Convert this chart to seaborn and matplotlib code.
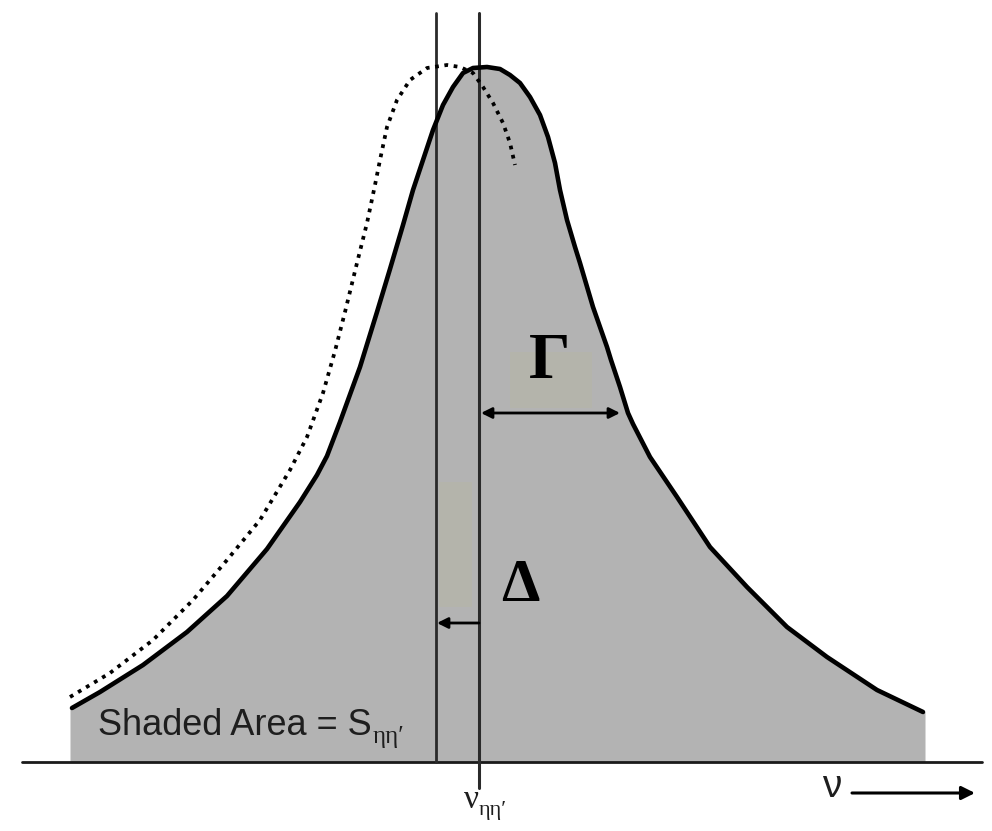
import matplotlib
matplotlib.use("Agg")
import matplotlib.pyplot as plt
import seaborn as sns
import pandas as pd
from matplotlib.patches import Rectangle

# Shifted line-shape profile: frequency position vs intensity above baseline
solid_nu = [72, 100, 143, 187, 227, 267, 300, 317, 327, 340, 360, 377, 390, 403,
            413, 423, 433, 443, 453, 463, 473, 487, 500, 510, 520, 530, 540, 548,
            555, 560, 567, 575, 580, 593, 607, 611, 620, 628, 633, 650, 677, 710,
            747, 787, 827, 877, 923]
solid_int = [54, 70, 97, 130, 166, 213, 260, 287, 306, 340, 395, 450, 493, 537,
             572, 602, 632, 657, 675, 689, 694, 695, 693, 687, 679, 665, 647, 625,
             599, 572, 542, 515, 499, 455, 415, 402, 375, 349, 338, 305, 265, 215,
             175, 135, 105, 72, 50]

# Unshifted (dotted) profile
dotted_nu = [70, 110, 153, 193, 227, 260, 290, 307, 315, 323, 335, 345, 357, 367,
             375, 380, 387, 397, 410, 427, 447, 460, 473, 483, 493, 503, 510, 515]
dotted_int = [65, 89, 122, 162, 202, 242, 292, 325, 347, 369, 411, 450, 499, 539,
              577, 602, 635, 662, 682, 694, 697, 695, 689, 675, 659, 639, 619, 597]

# Line centres and annotation levels
nu_shifted = 436
nu_center = 479
gamma_right = 620
gamma_level = 349
delta_level = 139
shade_left, shade_right = 70, 925

sns.set_theme(style="white")
plt.rcParams['font.family'] = ['Liberation Sans', 'DejaVu Sans']

fig = plt.figure(figsize=(9.92, 8.31), dpi=100)
ax = fig.add_axes([0, 0, 1, 1])
ax.set_xlim(0, 992)
ax.set_ylim(-69, 762)
ax.axis("off")

solid = pd.DataFrame({"nu": solid_nu, "I": solid_int})
dotted = pd.DataFrame({"nu": dotted_nu, "I": dotted_int})

# shaded area under the profile
fill_nu = [shade_left] + solid_nu + [shade_right]
fill_int = [solid_int[0]] + solid_int + [solid_int[-1]]
ax.fill_between(fill_nu, 0, fill_int, color="#b3b3b3", lw=0, zorder=1)

# light boxes behind the symbols
ax.add_patch(Rectangle((510, 354), 82, 56, color="#b4b4ab", lw=0, zorder=2))
ax.add_patch(Rectangle((439, 155), 33, 125, color="#b4b4ab", lw=0, zorder=2))

sns.lineplot(data=solid, x="nu", y="I", ax=ax, color="black", lw=3.3,
             sort=False, zorder=5, solid_joinstyle="round", solid_capstyle="round")
sns.lineplot(data=dotted, x="nu", y="I", ax=ax, color="black", lw=2.7,
             sort=False, zorder=4, linestyle=(0, (1.0, 1.5)))

# baseline
ax.plot([22, 982], [0, 0], color="#1a1a1a", lw=2, zorder=3)

# vertical lines at the line centres
ax.plot([nu_shifted, nu_shifted], [0, 749], color="#2a2a2a", lw=2, zorder=3)
ax.plot([nu_center, nu_center], [-26, 749], color="#2a2a2a", lw=2.2, zorder=3)

# Γ (width) double arrow
ax.annotate("", xy=(gamma_right, gamma_level), xytext=(nu_center + 2, gamma_level),
            arrowprops=dict(arrowstyle="<|-|>", color="black", lw=2,
                            mutation_scale=16, shrinkA=0, shrinkB=0), zorder=6)
# Δ (shift) arrow
ax.annotate("", xy=(nu_shifted + 1, delta_level), xytext=(nu_center, delta_level),
            arrowprops=dict(arrowstyle="-|>", color="black", lw=2,
                            mutation_scale=16, shrinkA=0, shrinkB=0), zorder=6)

ax.text(550, 400, "Γ", fontsize=47, fontweight="bold", family="Liberation Serif",
        color="black", ha="center", va="center", zorder=7)
ax.text(520, 176, "Δ", fontsize=44, fontweight="bold", family="Liberation Serif",
        color="black", ha="center", va="center", zorder=7)


def with_subscript(x, y, main, sub, sub_drop, main_kw, sub_kw, gap=1.0):
    """Draw a label and put a lowered subscript right after it."""
    t = ax.text(x, y, main, va="baseline", zorder=7, **main_kw)
    fig.canvas.draw()
    bb = t.get_window_extent()
    x_end = ax.transData.inverted().transform((bb.x1, bb.y0))[0]
    ax.text(x_end + gap, y - sub_drop, sub, ha="left", va="baseline", zorder=7,
            **sub_kw)


with_subscript(98, 27, "Shaded Area = S", "ηη′", 8,
               dict(fontsize=26, color="#1e1e1e", ha="left", family="Liberation Sans"),
               dict(fontsize=18, color="#1e1e1e", family="Liberation Serif"))

with_subscript(479, -46, "ν", "ηη′", 7,
               dict(fontsize=24, color="#1e1e1e", ha="right", family="Liberation Serif"),
               dict(fontsize=16, color="#1e1e1e", family="Liberation Serif"), gap=0)

ax.text(832, -35, "ν", fontsize=28, color="#1e1e1e", ha="center", va="baseline",
        family="Liberation Sans")
ax.annotate("", xy=(975, -31), xytext=(852, -31),
            arrowprops=dict(arrowstyle="-|>", color="black", lw=2.2,
                            mutation_scale=20, shrinkA=0, shrinkB=0))

fig.savefig("out.png", dpi=100)
